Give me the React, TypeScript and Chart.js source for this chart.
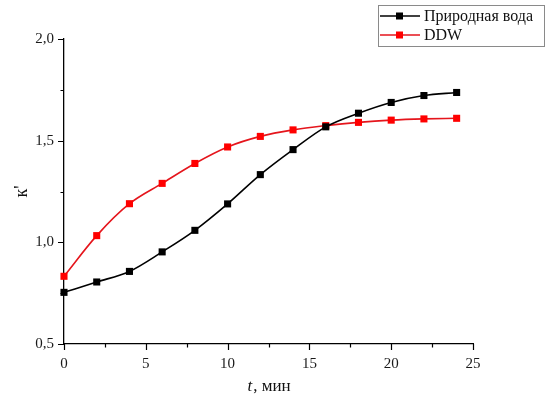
import React, { useEffect, useRef } from "react";
import { Chart, registerables } from "chart.js";

Chart.register(...registerables);

const times = [0, 2, 4, 6, 8, 10, 12, 14, 16, 18, 20, 22, 24];
const naturalWater = [0.754, 0.805, 0.857, 0.953, 1.059, 1.189, 1.333, 1.456, 1.568, 1.635, 1.688, 1.722, 1.737];
const ddw = [0.833, 1.033, 1.19, 1.29, 1.388, 1.469, 1.521, 1.553, 1.574, 1.59, 1.601, 1.607, 1.61];
const seriesLabels = ["Природная вода", "DDW"];
const xTicksMajor = [0, 5, 10, 15, 20, 25];
const xTicksMinor = [2.5, 7.5, 12.5, 17.5, 22.5];
const yTicksMajor = [0.5, 1.0, 1.5, 2.0];
const yTicksMinor = [0.75, 1.25, 1.75];
const xTitleItalic = "t";
const xTitleRest = ", мин";
const yTitle = "к'";

const SERIF = "'Liberation Serif', 'Times New Roman', serif";

const decorPlugin = {
  id: "decor",
  afterDraw(chart: any) {
    const ctx = chart.ctx as CanvasRenderingContext2D;
    const xs = chart.scales.x;
    const ys = chart.scales.y;
    const area = chart.chartArea;
    ctx.save();
    ctx.strokeStyle = "#000";
    ctx.lineWidth = 1.2;
    ctx.beginPath();
    for (const v of xTicksMajor) {
      const px = Math.round(xs.getPixelForValue(v)) + 0.5;
      ctx.moveTo(px, area.bottom);
      ctx.lineTo(px, area.bottom + 6);
    }
    for (const v of xTicksMinor) {
      const px = Math.round(xs.getPixelForValue(v)) + 0.5;
      ctx.moveTo(px, area.bottom);
      ctx.lineTo(px, area.bottom + 3.5);
    }
    for (const v of yTicksMajor) {
      const py = Math.round(ys.getPixelForValue(v)) + 0.5;
      ctx.moveTo(area.left, py);
      ctx.lineTo(area.left - 6, py);
    }
    for (const v of yTicksMinor) {
      const py = Math.round(ys.getPixelForValue(v)) + 0.5;
      ctx.moveTo(area.left, py);
      ctx.lineTo(area.left - 3.5, py);
    }
    ctx.stroke();

    // x title
    ctx.fillStyle = "#111";
    ctx.textBaseline = "middle";
    ctx.font = `italic 17px ${SERIF}`;
    const w1 = ctx.measureText(xTitleItalic).width;
    ctx.font = `17px ${SERIF}`;
    const w2 = ctx.measureText(xTitleRest).width;
    const cx = (area.left + area.right) / 2;
    const startX = cx - (w1 + w2) / 2;
    const ty = 387;
    ctx.font = `italic 17px ${SERIF}`;
    ctx.textAlign = "left";
    ctx.fillText(xTitleItalic, startX, ty);
    ctx.font = `17px ${SERIF}`;
    ctx.fillText(xTitleRest, startX + w1 + 1, ty);

    // y title
    ctx.save();
    ctx.translate(22, (area.top + area.bottom) / 2);
    ctx.rotate(-Math.PI / 2);
    ctx.textAlign = "center";
    ctx.textBaseline = "middle";
    ctx.font = `18px ${SERIF}`;
    ctx.fillText(yTitle, 0, 0);
    ctx.restore();

    // legend
    const bx = 378.5, by = 5.5, bw = 166, bh = 41;
    ctx.strokeStyle = "#8a8a8a";
    ctx.lineWidth = 1;
    ctx.strokeRect(bx, by, bw, bh);
    const rows = [16, 35];
    chart.data.datasets.forEach((ds: any, i: number) => {
      const ry = rows[i];
      ctx.strokeStyle = ds.borderColor;
      ctx.lineWidth = 1.6;
      ctx.beginPath();
      ctx.moveTo(380, ry);
      ctx.lineTo(420, ry);
      ctx.stroke();
      ctx.fillStyle = ds.pointBackgroundColor;
      ctx.fillRect(396, ry - 3.5, 7, 7);
      ctx.fillStyle = "#111";
      ctx.font = `16px ${SERIF}`;
      ctx.textAlign = "left";
      ctx.textBaseline = "middle";
      ctx.fillText(ds.label, 424, ry + 1);
    });
    ctx.restore();
  },
};

export default function App() {
  const ref = useRef<HTMLCanvasElement | null>(null);
  useEffect(() => {
    document.body.style.margin = "0";
    const canvas = ref.current;
    if (!canvas) return;
    const fmt = (v: number) => v.toFixed(1).replace(".", ",");
    const chart = new Chart(canvas, {
      type: "line",
      data: {
        datasets: [
          {
            label: seriesLabels[0],
            data: times.map((t, i) => ({ x: t, y: naturalWater[i] })),
            borderColor: "#000000",
            backgroundColor: "#000000",
            pointBackgroundColor: "#000000",
            pointBorderColor: "#000000",
            pointStyle: "rect",
            pointRadius: 5,
            pointBorderWidth: 0,
            borderWidth: 1.6,
            cubicInterpolationMode: "monotone",
            clip: false,
          } as any,
          {
            label: seriesLabels[1],
            data: times.map((t, i) => ({ x: t, y: ddw[i] })),
            borderColor: "#e5151c",
            backgroundColor: "#ff0000",
            pointBackgroundColor: "#ff0000",
            pointBorderColor: "#ff0000",
            pointStyle: "rect",
            pointRadius: 5,
            pointBorderWidth: 0,
            borderWidth: 1.6,
            cubicInterpolationMode: "monotone",
            clip: false,
          } as any,
        ],
      },
      options: {
        responsive: false,
        animation: false,
        events: [],
        layout: { padding: { top: 39, right: 75, left: 0, bottom: 0 }, autoPadding: false },
        plugins: { legend: { display: false }, tooltip: { enabled: false } },
        scales: {
          x: {
            type: "linear",
            min: 0,
            max: 25,
            afterFit: (s: any) => { s.height = 52; },
            afterBuildTicks: (s: any) => { s.ticks = xTicksMajor.map((v) => ({ value: v })); },
            ticks: {
              callback: (v: any) => String(v),
              font: { family: SERIF, size: 15 },
              color: "#1a1a1a",
              padding: 11,
              maxRotation: 0,
            },
            grid: { drawOnChartArea: false, drawTicks: false },
            border: { display: true, color: "#000", width: 1.3 },
          },
          y: {
            type: "linear",
            min: 0.5,
            max: 2.0,
            afterFit: (s: any) => { s.width = 64; },
            afterBuildTicks: (s: any) => { s.ticks = yTicksMajor.map((v) => ({ value: v })); },
            ticks: {
              callback: (v: any) => fmt(Number(v)),
              font: { family: SERIF, size: 15 },
              color: "#1a1a1a",
              padding: 10,
            },
            grid: { drawOnChartArea: false, drawTicks: false },
            border: { display: true, color: "#000", width: 1.3 },
          },
        },
      },
      plugins: [decorPlugin],
    } as any);
    return () => chart.destroy();
  }, []);
  return <canvas ref={ref} width={548} height={396} style={{ display: "block" }} />;
}
